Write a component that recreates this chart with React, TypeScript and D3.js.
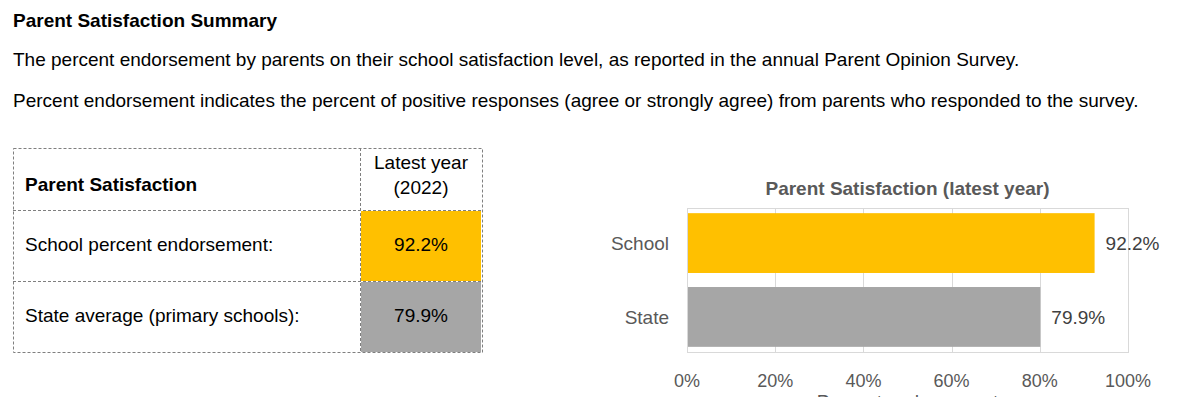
import React from "react";
import * as d3 from "d3";

const categories = ["School", "State"];
const values = [92.2, 79.9];
const barColors = ["#FFC000", "#A6A6A6"];
const tableRows = ["School percent endorsement:", "State average (primary schools):"];
const xTicks = [0, 20, 40, 60, 80, 100];

const FONT = "'Liberation Sans', Arial, sans-serif";
const FS = 19;

export default function App() {
  const W = 1200, H = 397;
  const plot = { left: 687, right: 1128, top: 208, bottom: 352 };
  const x = d3.scaleLinear().domain([0, 100]).range([plot.left, plot.right]);
  const y = d3.scaleBand<string>().domain(categories).range([plot.top, plot.bottom]).paddingInner(0.19).paddingOuter(0.07);

  // table geometry
  const tL = 13, tR = 482, tSplit = 360, tTop = 148, rowYs = [210, 281, 352];
  const fmt = (v: number) => v.toFixed(1) + "%";

  return (
    <svg width={W} height={H} style={{ position: "absolute", left: 0, top: 0, fontFamily: FONT }}>
      <rect x={0} y={0} width={W} height={H} fill="#fff" />
      <text x={13} y={27} fontSize={FS} fontWeight="bold" fill="#000">Parent Satisfaction Summary</text>
      <text x={13} y={66} fontSize={FS} fill="#000">The percent endorsement by parents on their school satisfaction level, as reported in the annual Parent Opinion Survey.</text>
      <text x={13} y={107} fontSize={FS} fill="#000">Percent endorsement indicates the percent of positive responses (agree or strongly agree) from parents who responded to the survey.</text>

      {/* table */}
      {values.map((v, i) => (
        <g key={"cell" + i}>
          <rect x={tSplit + 1} y={rowYs[i] + 1} width={tR - tSplit - 2} height={rowYs[i + 1] - rowYs[i] - 1} fill={barColors[i]} />
          <text x={(tSplit + tR) / 2} y={(rowYs[i] + rowYs[i + 1]) / 2 + 5} textAnchor="middle" fontSize={FS} fill="#000">{fmt(v)}</text>
          <text x={25} y={(rowYs[i] + rowYs[i + 1]) / 2 + 5} fontSize={FS} fill="#000">{tableRows[i]}</text>
        </g>
      ))}
      <g stroke="#7f7f7f" strokeWidth={1} strokeDasharray="3,2" fill="none">
        <rect x={tL + 0.5} y={tTop + 0.5} width={tR - tL} height={rowYs[2] - tTop} />
        <line x1={tSplit + 0.5} x2={tSplit + 0.5} y1={tTop} y2={rowYs[2]} />
        <line x1={tL} x2={tR} y1={rowYs[0] + 0.5} y2={rowYs[0] + 0.5} />
        <line x1={tL} x2={tR} y1={rowYs[1] + 0.5} y2={rowYs[1] + 0.5} />
      </g>
      <text x={25} y={191} fontSize={FS} fontWeight="bold" fill="#000">Parent Satisfaction</text>
      <text x={(tSplit + tR) / 2} y={169} textAnchor="middle" fontSize={FS} fill="#000">Latest year</text>
      <text x={(tSplit + tR) / 2} y={194} textAnchor="middle" fontSize={FS} fill="#000">(2022)</text>

      {/* chart */}
      <text x={(plot.left + plot.right) / 2} y={195} textAnchor="middle" fontSize={FS} fontWeight="bold" fill="#595959">Parent Satisfaction (latest year)</text>
      <rect x={plot.left + 0.5} y={plot.top + 0.5} width={plot.right - plot.left} height={plot.bottom - plot.top} fill="none" stroke="#d9d9d9" />
      {xTicks.slice(1, -1).map((t) => (
        <line key={t} x1={Math.round(x(t)) + 0.5} x2={Math.round(x(t)) + 0.5} y1={plot.top} y2={plot.bottom} stroke="#d9d9d9" />
      ))}
      {categories.map((c, i) => (
        <g key={c}>
          <rect x={x(0) + 1} y={y(c)!} width={x(values[i]) - x(0)} height={y.bandwidth()} fill={barColors[i]} />
          <text x={x(values[i]) + 12} y={y(c)! + y.bandwidth() / 2 + 7} fontSize={FS} fill="#404040">{fmt(values[i])}</text>
          <text x={669} y={y(c)! + y.bandwidth() / 2 + 7} textAnchor="end" fontSize={FS} fill="#595959">{c}</text>
        </g>
      ))}
      {xTicks.map((t) => (
        <text key={t} x={x(t)} y={387} textAnchor="middle" fontSize={18} fill="#595959">{t}%</text>
      ))}
      <text x={(plot.left + plot.right) / 2} y={408} textAnchor="middle" fontSize={FS} fill="#595959">Percent endorsement</text>
    </svg>
  );
}
